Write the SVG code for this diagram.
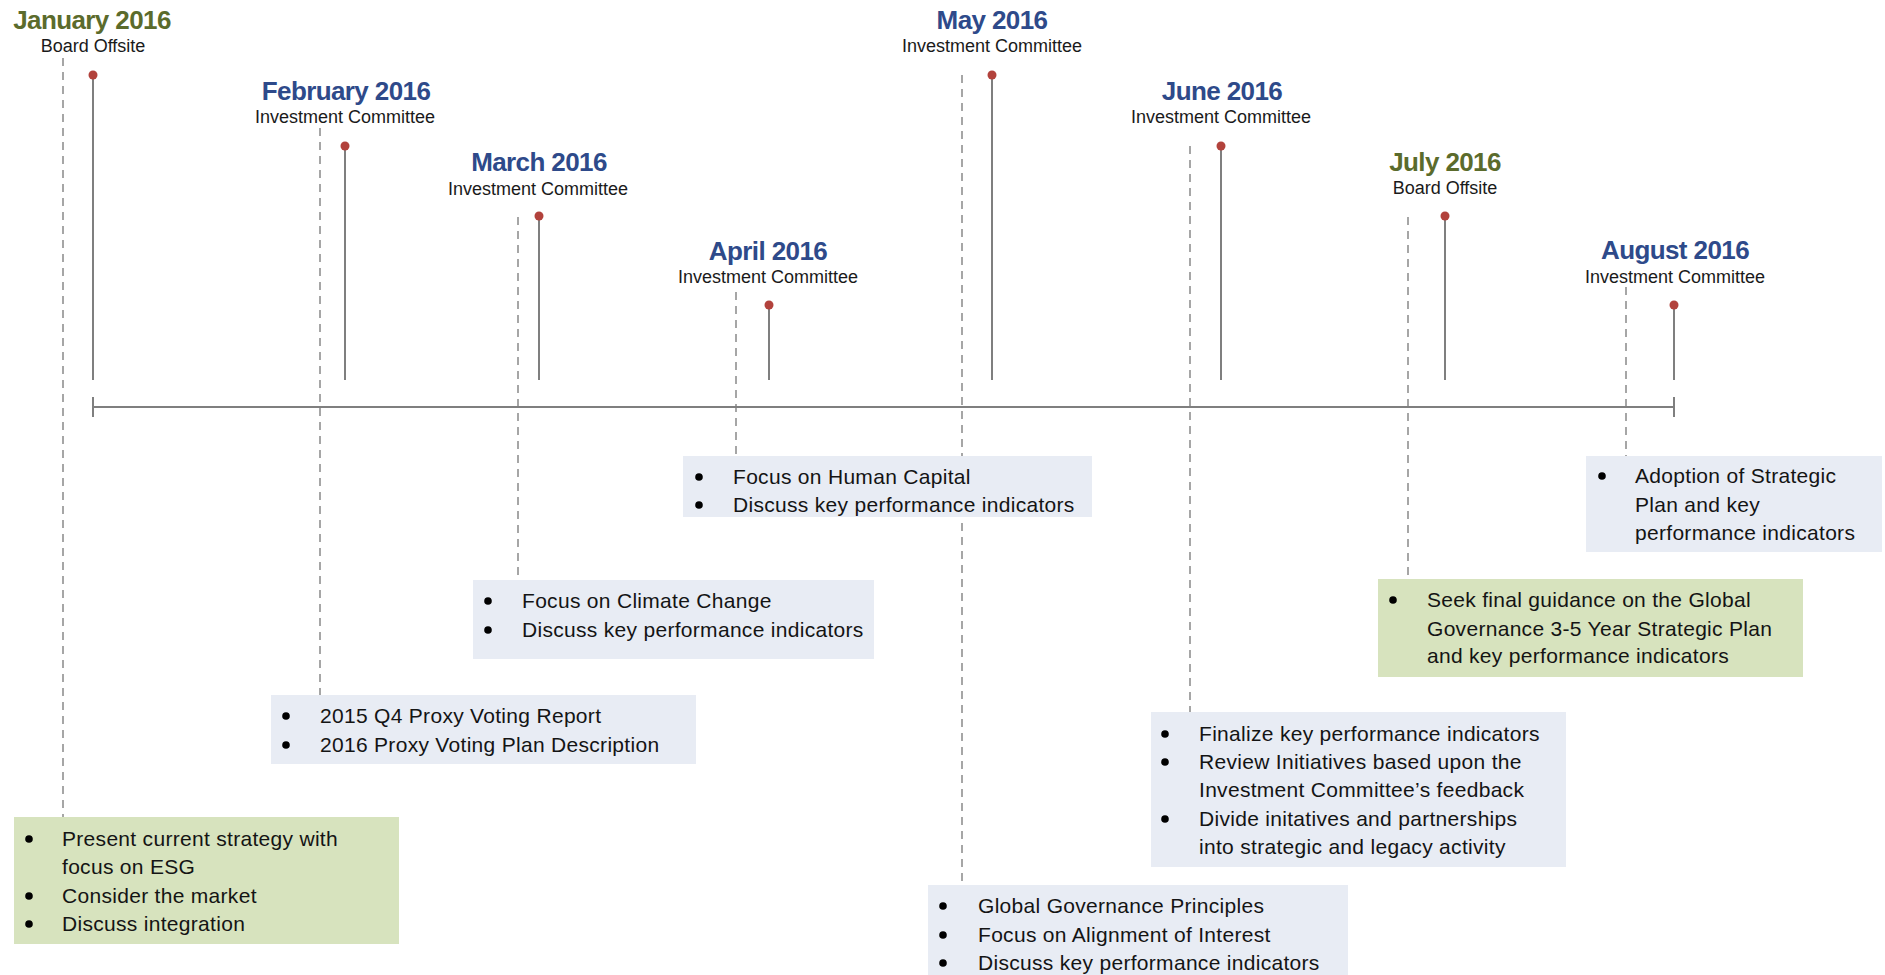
<svg xmlns="http://www.w3.org/2000/svg" width="1885" height="975" viewBox="0 0 1885 975">
<style>
.title{font-family:"Liberation Sans",Arial,sans-serif;font-weight:bold;font-size:26px;letter-spacing:-0.6px;text-anchor:middle}
.blue{fill:#2E4A8A}
.green{fill:#5B6B2C}
.sub{font-family:"Liberation Sans",Arial,sans-serif;font-size:18px;fill:#1a1a1a;text-anchor:middle}
.txt{font-family:"Liberation Sans",Arial,sans-serif;font-size:21px;letter-spacing:0.3px;fill:#141414}
.boxb{fill:#E8ECF4}
.boxg{fill:#D7E3BE}
.dash{stroke:#A6A6A6;stroke-width:2;stroke-dasharray:8,6;fill:none}
.stem{stroke:#7F7F7F;stroke-width:2;fill:none}
.dot{fill:#B2423C}
.bul{fill:#000}
</style>
<rect width="1885" height="975" fill="#FFFFFF"/>
<g id="connectors">
<line class="dash" x1="63" y1="58" x2="63" y2="817"/>
<line class="dash" x1="320" y1="128" x2="320" y2="695"/>
<line class="dash" x1="518" y1="217" x2="518" y2="580"/>
<line class="dash" x1="736" y1="292" x2="736" y2="456"/>
<line class="dash" x1="962" y1="75" x2="962" y2="885"/>
<line class="dash" x1="1190" y1="146" x2="1190" y2="712"/>
<line class="dash" x1="1408" y1="217" x2="1408" y2="579"/>
<line class="dash" x1="1626" y1="287" x2="1626" y2="456"/>
<line class="stem" x1="93" y1="75" x2="93" y2="380"/>
<line class="stem" x1="345" y1="146" x2="345" y2="380"/>
<line class="stem" x1="539" y1="216" x2="539" y2="380"/>
<line class="stem" x1="769" y1="305" x2="769" y2="380"/>
<line class="stem" x1="992" y1="75" x2="992" y2="380"/>
<line class="stem" x1="1221" y1="146" x2="1221" y2="380"/>
<line class="stem" x1="1445" y1="216" x2="1445" y2="380"/>
<line class="stem" x1="1674" y1="305" x2="1674" y2="380"/>
<line class="stem" x1="93" y1="407" x2="1674" y2="407"/>
<line class="stem" x1="93" y1="397" x2="93" y2="417"/>
<line class="stem" x1="1674" y1="397" x2="1674" y2="417"/>
<circle class="dot" cx="93" cy="75" r="4.5"/>
<circle class="dot" cx="345" cy="146" r="4.5"/>
<circle class="dot" cx="539" cy="216" r="4.5"/>
<circle class="dot" cx="769" cy="305" r="4.5"/>
<circle class="dot" cx="992" cy="75" r="4.5"/>
<circle class="dot" cx="1221" cy="146" r="4.5"/>
<circle class="dot" cx="1445" cy="216" r="4.5"/>
<circle class="dot" cx="1674" cy="305" r="4.5"/>
</g>
<g id="jan">
<text class="title green" x="92" y="29">January 2016</text>
<text class="sub" x="93" y="52">Board Offsite</text>
<rect class="boxg" x="14" y="817" width="385" height="127"/>
<circle class="bul" cx="29" cy="839" r="3.8"/><text class="txt" x="62" y="846">Present current strategy with</text>
<text class="txt" x="62" y="874">focus on ESG</text>
<circle class="bul" cx="29" cy="896" r="3.8"/><text class="txt" x="62" y="903">Consider the market</text>
<circle class="bul" cx="29" cy="924" r="3.8"/><text class="txt" x="62" y="931">Discuss integration</text>
</g>
<g id="feb">
<text class="title blue" x="346" y="100">February 2016</text>
<text class="sub" x="345" y="123">Investment Committee</text>
<rect class="boxb" x="271" y="695" width="425" height="69"/>
<circle class="bul" cx="286" cy="716" r="3.8"/><text class="txt" x="320" y="723">2015 Q4 Proxy Voting Report</text>
<circle class="bul" cx="286" cy="745" r="3.8"/><text class="txt" x="320" y="752">2016 Proxy Voting Plan Description</text>
</g>
<g id="mar">
<text class="title blue" x="539" y="171">March 2016</text>
<text class="sub" x="538" y="195">Investment Committee</text>
<rect class="boxb" x="473" y="580" width="401" height="79"/>
<circle class="bul" cx="488" cy="601" r="3.8"/><text class="txt" x="522" y="608">Focus on Climate Change</text>
<circle class="bul" cx="488" cy="630" r="3.8"/><text class="txt" x="522" y="637">Discuss key performance indicators</text>
</g>
<g id="apr">
<text class="title blue" x="768" y="260">April 2016</text>
<text class="sub" x="768" y="283">Investment Committee</text>
<rect class="boxb" x="683" y="456" width="409" height="61"/>
<circle class="bul" cx="699" cy="477" r="3.8"/><text class="txt" x="733" y="484">Focus on Human Capital</text>
<circle class="bul" cx="699" cy="505" r="3.8"/><text class="txt" x="733" y="512">Discuss key performance indicators</text>
</g>
<g id="may">
<text class="title blue" x="992" y="29">May 2016</text>
<text class="sub" x="992" y="52">Investment Committee</text>
<rect class="boxb" x="928" y="885" width="420" height="95"/>
<circle class="bul" cx="943" cy="906" r="3.8"/><text class="txt" x="978" y="913">Global Governance Principles</text>
<circle class="bul" cx="943" cy="935" r="3.8"/><text class="txt" x="978" y="942">Focus on Alignment of Interest</text>
<circle class="bul" cx="943" cy="963" r="3.8"/><text class="txt" x="978" y="970">Discuss key performance indicators</text>
</g>
<g id="jun">
<text class="title blue" x="1222" y="100">June 2016</text>
<text class="sub" x="1221" y="123">Investment Committee</text>
<rect class="boxb" x="1151" y="712" width="415" height="155"/>
<circle class="bul" cx="1165" cy="734" r="3.8"/><text class="txt" x="1199" y="741">Finalize key performance indicators</text>
<circle class="bul" cx="1165" cy="762" r="3.8"/><text class="txt" x="1199" y="769">Review Initiatives based upon the</text>
<text class="txt" x="1199" y="797">Investment Committee’s feedback</text>
<circle class="bul" cx="1165" cy="819" r="3.8"/><text class="txt" x="1199" y="826">Divide initatives and partnerships</text>
<text class="txt" x="1199" y="854">into strategic and legacy activity</text>
</g>
<g id="jul">
<text class="title green" x="1445" y="171">July 2016</text>
<text class="sub" x="1445" y="194">Board Offsite</text>
<rect class="boxg" x="1378" y="579" width="425" height="98"/>
<circle class="bul" cx="1393" cy="600" r="3.8"/><text class="txt" x="1427" y="607">Seek final guidance on the Global</text>
<text class="txt" x="1427" y="636">Governance 3-5 Year Strategic Plan</text>
<text class="txt" x="1427" y="663">and key performance indicators</text>
</g>
<g id="aug">
<text class="title blue" x="1675" y="259">August 2016</text>
<text class="sub" x="1675" y="283">Investment Committee</text>
<rect class="boxb" x="1586" y="456" width="296" height="96"/>
<circle class="bul" cx="1602" cy="476" r="3.8"/><text class="txt" x="1635" y="483">Adoption of Strategic</text>
<text class="txt" x="1635" y="512">Plan and key</text>
<text class="txt" x="1635" y="540">performance indicators</text>
</g>
</svg>
